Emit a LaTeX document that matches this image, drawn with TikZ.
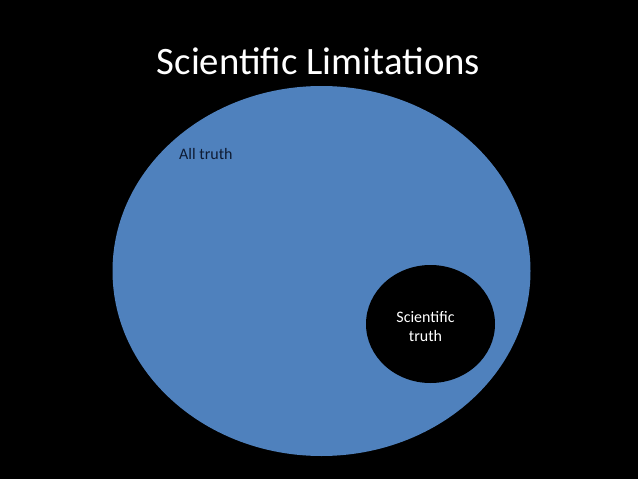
\documentclass[tikz,border=0pt]{standalone}
\usepackage{fontspec}
\setmainfont{Carlito}
\usetikzlibrary{shapes.geometric}
\definecolor{pptblue}{HTML}{4F81BD}
\definecolor{darktext}{HTML}{0E1B33}
\begin{document}
\begin{tikzpicture}[x=1pt,y=-1pt,
  blob/.style={ellipse,draw=none,inner sep=0pt},
  lbl/.style={inner sep=0pt,font=\fontsize{16}{19}\selectfont}]
\fill[black] (0,0) rectangle (638,479);
\useasboundingbox (0,0) rectangle (638,479);
\node[anchor=base,inner sep=0pt,text=white,font=\fontsize{38.8}{46}\selectfont] (title) at (318.5,74.3) {Scientific Limitations};
\node[blob,fill=pptblue,minimum width=418pt,minimum height=370pt] (all) at (321.5,271) {};
\node[blob,fill=black,minimum width=129pt,minimum height=118pt] (sci) at (430.5,324) {};
\node[lbl,anchor=base west,text=darktext] (alltxt) at (179,159) {All truth};
\node[lbl,align=center,text=white] (scitxt) at (425.5,326.5) {Scientific\\truth};
\end{tikzpicture}
\end{document}
